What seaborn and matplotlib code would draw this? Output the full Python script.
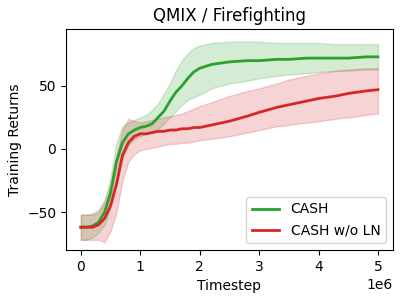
import numpy as np
import pandas as pd
import seaborn as sns
import matplotlib
matplotlib.use("Agg")
import matplotlib.pyplot as plt
from matplotlib.ticker import MultipleLocator

# timesteps (in 1e6)
steps = [0.0, 0.1, 0.2, 0.3, 0.4, 0.5, 0.6, 0.7, 0.8, 0.9, 1.0, 1.1, 1.2, 1.3, 1.4,
         1.5, 1.6, 1.7, 1.8, 1.9, 2.0, 2.2, 2.5, 2.8, 3.0, 3.3, 3.5, 3.8, 4.0, 4.3,
         4.5, 4.8, 5.0]

cash_mean = [-62, -62, -61, -58, -50, -35, -10, 5, 12, 15, 17, 18, 20, 25, 30,
             38, 45, 50, 56, 61, 64, 67, 69, 70, 70, 71, 71, 72, 72, 72,
             72, 73, 73]
cash_low = [-72, -72, -70, -66, -60, -47, -25, -8, 3, 8, 10, 12, 13, 16, 20,
            25, 30, 35, 39, 41, 43, 48, 52, 54, 56, 58, 59, 60, 61, 62,
            62, 63, 63]
cash_high = [-52, -52, -51, -48, -40, -22, 5, 18, 21, 23, 25, 27, 31, 36, 44,
             52, 62, 70, 76, 80, 82, 84, 85, 85, 85, 84, 84, 84, 84, 83,
             83, 83, 83]

noln_mean = [-62, -62, -62, -60, -55, -45, -28, -5, 5, 10, 12, 12, 13, 14, 14,
             15, 15, 16, 16, 17, 17, 19, 22, 26, 29, 33, 35, 38, 40, 42,
             44, 46, 47]
noln_low = [-72, -72, -72, -72, -74, -65, -50, -25, -10, -4, -1, 0, 1, 2, 3,
            4, 4, 5, 5, 6, 7, 8, 10, 13, 15, 18, 19, 21, 22, 24,
            25, 27, 28]
noln_high = [-52, -52, -52, -50, -42, -28, -5, 15, 24, 22, 21, 22, 23, 24, 25,
             26, 27, 28, 30, 32, 34, 37, 42, 46, 48, 52, 55, 58, 60, 62,
             63, 64, 64]

names = ["CASH", "CASH w/o LN"]
colors = ["#2ca02c", "#d62728"]

rows = []
for name, m in zip(names, [cash_mean, noln_mean]):
    for s, v in zip(steps, m):
        rows.append({"Timestep": s * 1e6, "Return": v, "method": name})
df = pd.DataFrame(rows)

fig, ax = plt.subplots(figsize=(4, 3), dpi=100)
x = np.array(steps) * 1e6
for lo, hi, c in zip([cash_low, noln_low], [cash_high, noln_high], colors):
    ax.fill_between(x, lo, hi, color=c, alpha=0.2, linewidth=1)
sns.lineplot(data=df, x="Timestep", y="Return", hue="method", palette=colors,
             linewidth=2, ax=ax)

ax.set_ylim(-80, 95)
ax.yaxis.set_major_locator(MultipleLocator(50))
ax.set_xlabel("Timestep")
ax.set_ylabel("Training Returns")
ax.set_title("QMIX / Firefighting")
ax.legend(loc="lower right", title=None)
plt.subplots_adjust(left=0.165, right=0.982, top=0.903, bottom=0.167)
plt.savefig("out.png")
